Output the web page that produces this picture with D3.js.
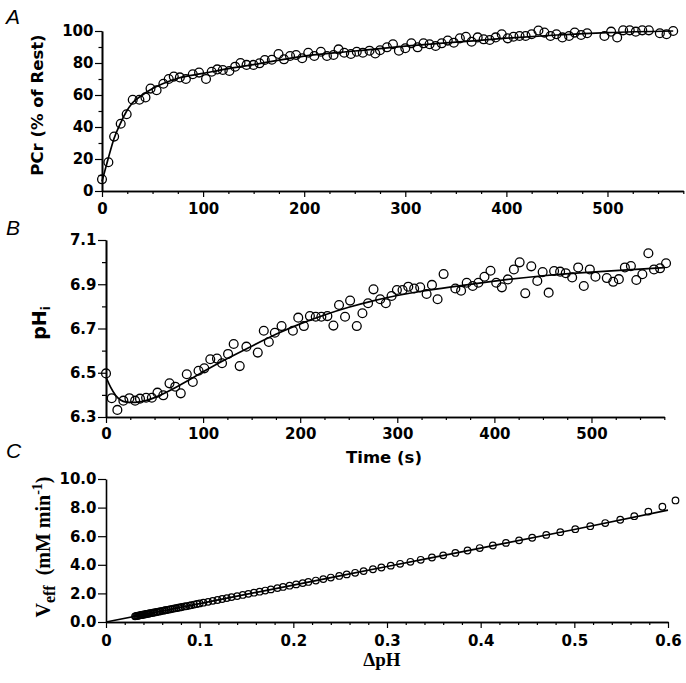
<!DOCTYPE html>
<html><head><meta charset="utf-8">
<script src="https://cdn.jsdelivr.net/npm/d3@7"></script>
<style>
html,body{margin:0;padding:0;background:#fff;}
svg{display:block;}
</style></head>
<body>
<script>
// ---------- Panel A data: PCr recovery ----------
const pcrTime = [0,6.3,12,18.5,24.4,30.4,37,43,48,54,60.7,66,71,77,83,89.8,96,102.9,108.5,114,119.5,126,131.7,137,143,149.8,155.8,161,168,174.6,180,186,192,198,204,210,216.5,222.5,229,234,239.6,246.2,252,258,264.6,270.3,275,281.9,287.8,293.7,300,306,312.2,318,324,330,336,342,348,354,360,365.6,371.6,377.5,383.5,389.4,395.4,401.3,407,413,419,425,431.7,437.6,443.6,449.5,455.4,462,467.6,473.9,479.9,497,503.6,509.6,515.5,522,528,534.4,540.9,551.8,558.4,565];
const pcrValue = [7.3,18,34,42,48,57,57,58.5,64,63,67,70,71.5,71,70,73,74,70,74.5,76,75.6,75,77.7,80,78.8,78.8,79.8,81.9,82,85.6,82.3,84.4,85,83,86.4,84.4,87,84.4,85,88.5,86.4,85.6,87,86.4,87.7,86,88,89.8,91.7,87.7,89.2,92.3,89.8,92.3,91.7,90.6,92.3,94,92.7,95.4,96.4,93.3,96,94.8,94.4,96,98,95.4,96.4,96.9,96.9,98,100.3,99,96.9,98,96,96.9,99,97.5,98.6,96.9,99.6,96,100.4,100.4,99.6,100.4,100.4,98.6,98,100];
const pcrFitTime  = [0,6,12,18,24,30,40,50,60,75,100,125,150,175,200,250,300,350,400,450,500,565];
const pcrFitValue = [6,20,33,42,49.5,55,60,64,67,70.5,73.5,76.5,79,81.8,84.3,87.5,90.5,93,95.5,97.5,99,100];
const pcrYTicks = [0,20,40,60,80,100];
const pcrYMinor = [10,30,50,70,90];
const timeTicks = [0,100,200,300,400,500];
const timeMinor = [25,50,75,125,150,175,225,250,275,325,350,375,425,450,475,525,550,575];

// ---------- Panel B data: intracellular pH ----------
const phTime = [0,5.9,11.7,17.9,24.1,30,35,41.3,47.2,53,59,65.4,71.3,77,83.2,89.4,95.3,101.2,107.4,114.3,119.5,125.7,131.5,137.7,144.6,156.3,162.5,167.7,173.9,180.8,192.5,198,203.8,210,216,221.8,228,234.2,240,246.2,251.4,258.3,264.1,269.9,275.5,282.4,288.2,294.1,299.6,305.4,311.3,317.4,323.6,330.2,335.7,341.5,347.7,359.8,365.7,371.5,377.7,383.5,389.8,396,401.9,407.7,413.9,420.1,426,431.8,438,444.2,449.7,455.9,461.5,467.7,473.5,480.1,486.3,492.1,498.3,504.1,515.8,522.4,528.2,534.4,540.6,546.2,552.4,558.6,564.4,570.6,576.8];
const phValue = [6.497,6.385,6.332,6.374,6.385,6.374,6.383,6.387,6.387,6.41,6.398,6.452,6.437,6.407,6.493,6.458,6.509,6.52,6.561,6.564,6.543,6.585,6.63,6.53,6.618,6.591,6.69,6.639,6.681,6.711,6.69,6.749,6.711,6.756,6.753,6.753,6.756,6.713,6.806,6.753,6.826,6.711,6.769,6.814,6.877,6.832,6.814,6.847,6.874,6.874,6.889,6.881,6.886,6.856,6.897,6.832,6.946,6.881,6.871,6.907,6.892,6.907,6.934,6.961,6.907,6.886,6.922,6.967,6.999,6.859,6.981,6.915,6.955,6.862,6.96,6.957,6.95,6.931,6.976,6.892,6.967,6.934,6.928,6.911,6.923,6.976,6.982,6.919,6.945,7.04,6.967,6.972,6.995];
const phFitTime  = [0,5,10,15,20,30,40,50,75,100,125,150,175,200,225,250,275,300,325,350,400,450,500,575];
const phFitValue = [6.48,6.43,6.395,6.375,6.366,6.365,6.372,6.385,6.44,6.505,6.565,6.62,6.675,6.722,6.762,6.797,6.826,6.85,6.869,6.885,6.915,6.94,6.955,6.975];
const phYTicks = [6.3,6.5,6.7,6.9,7.1];
const phYMinor = [6.4,6.6,6.8,7.0];

// ---------- Panel C data: Veff vs ΔpH ----------
const dpH = [0.031,0.032,0.033,0.034,0.035,0.036,0.037,0.038,0.039,0.040,0.041,0.042,0.043,0.044,0.045,0.046,0.047,0.048,0.050,0.051,0.052,0.054,0.055,0.057,0.058,0.060,0.062,0.063,0.065,0.067,0.069,0.071,0.073,0.075,0.077,0.079,0.081,0.084,0.086,0.089,0.091,0.094,0.097,0.100,0.104,0.109,0.114,0.119,0.124,0.129,0.134,0.140,0.146,0.152,0.158,0.164,0.170,0.176,0.183,0.189,0.196,0.203,0.210,0.216,0.224,0.232,0.240,0.249,0.257,0.266,0.275,0.285,0.294,0.304,0.314,0.325,0.336,0.348,0.360,0.373,0.386,0.399,0.413,0.427,0.441,0.455,0.470,0.485,0.501,0.517,0.533,0.549,0.564,0.579,0.594,0.608];
const veff = [0.40,0.41,0.43,0.44,0.45,0.47,0.48,0.49,0.51,0.52,0.53,0.54,0.56,0.57,0.58,0.60,0.61,0.62,0.65,0.66,0.67,0.70,0.71,0.74,0.75,0.78,0.80,0.82,0.84,0.87,0.89,0.92,0.95,0.97,1.00,1.02,1.05,1.09,1.11,1.15,1.18,1.22,1.26,1.30,1.35,1.41,1.48,1.54,1.61,1.67,1.74,1.81,1.89,1.97,2.05,2.12,2.20,2.28,2.37,2.45,2.54,2.63,2.72,2.80,2.90,3.00,3.11,3.22,3.33,3.44,3.56,3.69,3.81,3.94,4.07,4.21,4.35,4.51,4.66,4.83,5.00,5.17,5.35,5.53,5.71,5.89,6.09,6.28,6.49,6.70,6.92,7.15,7.40,7.72,8.06,8.50];
const veffFitX = [0,0.1,0.2,0.3,0.4,0.5,0.6];
const veffFitY = [0,1.29,2.58,3.88,5.17,6.47,7.82];
const veffYTicks = [0,2,4,6,8,10];
const dpHTicks = [0,0.1,0.2,0.3,0.4,0.5,0.6];
const dpHMinor = [0.02,0.04,0.06,0.08,0.12,0.14,0.16,0.18,0.22,0.24,0.26,0.28,0.32,0.34,0.36,0.38,0.42,0.44,0.46,0.48,0.52,0.54,0.56,0.58];

const W = 686, H = 683;
const svg = d3.select("body").append("svg").attr("width", W).attr("height", H);
const TICKFONT = "'DejaVu Sans', sans-serif";

function styleAxis(g){
  g.select(".domain").attr("stroke","#000").attr("stroke-width",1.6);
  g.selectAll(".tick line").attr("stroke","#000").attr("stroke-width",1.2);
  g.selectAll(".tick text").attr("fill","#000")
    .attr("font-family",TICKFONT).attr("font-weight","bold").attr("font-size",15);
}

function panel(opts){
  const {x, y, xTicks, xMinor, yTicks, yMinor, xFmt, yFmt, xPad, yMajor, yMinorLen, yPad} = opts;
  const gx = svg.append("g").attr("transform",`translate(0,${y.range()[0]})`);
  gx.call(d3.axisBottom(x).tickValues(xMinor).tickSize(3).tickSizeOuter(0).tickFormat(""));
  gx.call(g=>styleAxis(g));
  const gx2 = svg.append("g").attr("transform",`translate(0,${y.range()[0]})`);
  gx2.call(d3.axisBottom(x).tickValues(xTicks).tickSize(6).tickSizeOuter(0).tickPadding(xPad).tickFormat(xFmt));
  gx2.call(g=>styleAxis(g));
  if (yMinor.length){
    const gy = svg.append("g").attr("transform",`translate(${x.range()[0]},0)`);
    gy.call(d3.axisLeft(y).tickValues(yMinor).tickSize(yMinorLen).tickSizeOuter(0).tickFormat(""));
    gy.call(g=>styleAxis(g));
  }
  const gy2 = svg.append("g").attr("transform",`translate(${x.range()[0]},0)`);
  gy2.call(d3.axisLeft(y).tickValues(yTicks).tickSize(yMajor).tickSizeOuter(0).tickPadding(yPad).tickFormat(yFmt));
  gy2.call(g=>styleAxis(g));
}

function fitLine(x, y, xs, ys, curve){
  svg.append("path")
    .datum(xs.map((v,i)=>[v, ys[i]]))
    .attr("fill","none").attr("stroke","#000").attr("stroke-width",1.7)
    .attr("d", d3.line().x(d=>x(d[0])).y(d=>y(d[1])).curve(curve));
}
function dots(x, y, xs, ys, r, sw){
  svg.append("g").selectAll("circle")
    .data(xs.map((v,i)=>[v, ys[i]]))
    .join("circle")
    .attr("cx", d=>x(d[0])).attr("cy", d=>y(d[1])).attr("r", r)
    .attr("fill","none").attr("stroke","#000").attr("stroke-width", sw);
}

// ---------- Panel A ----------
const xA = d3.scaleLinear().domain([0,575]).range([102,683.3]);
const yA = d3.scaleLinear().domain([0,100]).range([191,31]);
panel({x:xA, y:yA, xTicks:timeTicks, xMinor:timeMinor, yTicks:pcrYTicks, yMinor:pcrYMinor,
  xFmt:d3.format("d"), yFmt:d3.format("d"), xPad:6.5, yMajor:7, yMinorLen:3.5, yPad:1.5});
fitLine(xA, yA, pcrFitTime, pcrFitValue, d3.curveMonotoneX);
dots(xA, yA, pcrTime, pcrValue, 4.4, 1.3);

// ---------- Panel B ----------
const xB = d3.scaleLinear().domain([0,575]).range([106,664.3]);
const yB = d3.scaleLinear().domain([6.3,7.1]).range([417,240]);
panel({x:xB, y:yB, xTicks:timeTicks, xMinor:timeMinor, yTicks:phYTicks, yMinor:phYMinor,
  xFmt:d3.format("d"), yFmt:d3.format(".1f"), xPad:5.5, yMajor:8, yMinorLen:4, yPad:1.5});
fitLine(xB, yB, phFitTime, phFitValue, d3.curveBasis);
dots(xB, yB, phTime, phValue, 4.4, 1.3);

// ---------- Panel C ----------
const xC = d3.scaleLinear().domain([0,0.6]).range([106,668]);
const yC = d3.scaleLinear().domain([0,10]).range([622,479]);
panel({x:xC, y:yC, xTicks:dpHTicks, xMinor:dpHMinor, yTicks:veffYTicks, yMinor:[],
  xFmt:d=> d===0 ? "0" : d3.format(".1f")(d), yFmt:d3.format(".1f"), xPad:7.5, yMajor:8, yMinorLen:4, yPad:1.5});
fitLine(xC, yC, veffFitX, veffFitY, d3.curveMonotoneX);
dots(xC, yC, dpH, veff, 3.3, 1.2);

// ---------- Panel letters ----------
[["A",24],["B",235],["C",458]].forEach(([t,yy])=>{
  svg.append("text").attr("x",6).attr("y",yy).text(t)
    .attr("font-family","'Liberation Sans', Arial, sans-serif").attr("font-style","italic")
    .attr("font-size",21).attr("fill","#000");
});

// ---------- Axis titles ----------
svg.append("text").attr("transform","translate(43,105) rotate(-90)")
  .attr("text-anchor","middle").attr("font-family",TICKFONT).attr("font-weight","bold")
  .attr("font-size",16.5).text("PCr (% of Rest)");

const phLab = svg.append("text").attr("transform","translate(46,323) rotate(-90)")
  .attr("text-anchor","middle").attr("font-family",TICKFONT).attr("font-weight","bold")
  .attr("font-size",19);
phLab.append("tspan").text("pH");
phLab.append("tspan").attr("font-size",12).attr("dy",4).text("i");

svg.append("text").attr("x",384).attr("y",463).attr("text-anchor","middle")
  .attr("font-family",TICKFONT).attr("font-weight","bold").attr("font-size",16.5).text("Time (s)");

svg.append("text").attr("x",382).attr("y",666).attr("text-anchor","middle")
  .attr("font-family","'Liberation Serif', 'Times New Roman', serif").attr("font-weight","bold")
  .attr("font-size",19).text("\u0394pH");

const vLab = svg.append("text").attr("transform","translate(50,547) rotate(-90)")
  .attr("text-anchor","middle").attr("font-family","'Liberation Serif', 'Times New Roman', serif")
  .attr("font-weight","bold").attr("font-size",20);
vLab.append("tspan").text("V");
vLab.append("tspan").attr("font-size",16).attr("dy",5).text("eff");
vLab.append("tspan").attr("dy",-5).text("\u00a0\u00a0(mM min");
vLab.append("tspan").attr("font-size",14).attr("dy",-8).text("-1");
vLab.append("tspan").attr("dy",8).text(")");
</script>
</body></html>
